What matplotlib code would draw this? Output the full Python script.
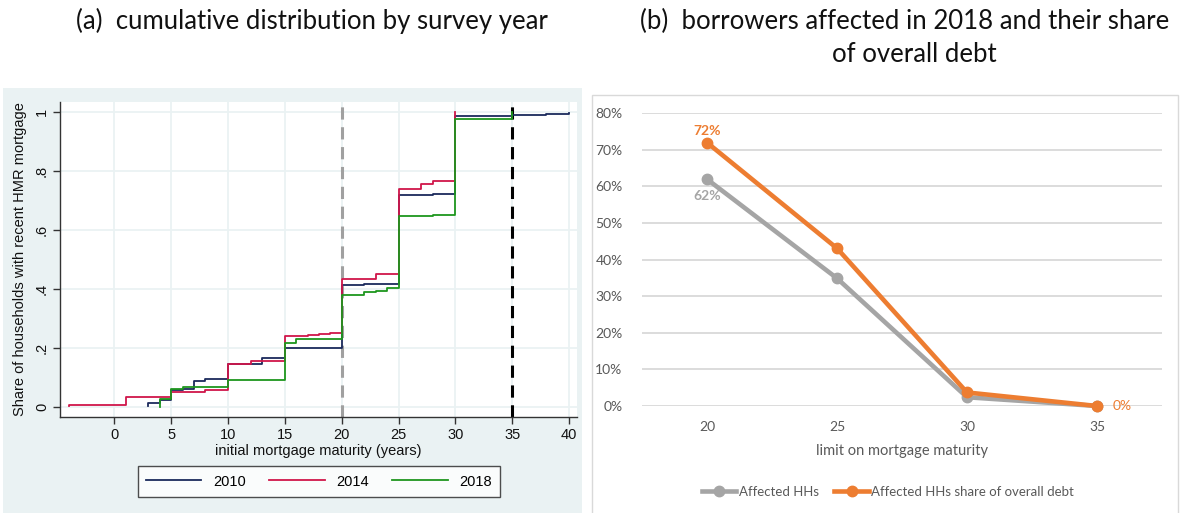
import numpy as np
import matplotlib.pyplot as plt
from matplotlib.patches import Rectangle
from matplotlib.ticker import PercentFormatter

# (a) cumulative share of households by initial maturity (stairstep points)
x2010 = [3, 3, 4, 5, 6, 7, 8, 10, 12, 13, 15, 20, 22, 25, 28, 30, 35, 38, 40, 40]
y2010 = [0.003, 0.016, 0.025, 0.059, 0.063, 0.089, 0.097, 0.145, 0.148, 0.168, 0.200,
         0.413, 0.416, 0.718, 0.720, 0.986, 0.990, 0.992, 0.994, 0.997]
x2014 = [-4, -4, 1, 5, 8, 10, 12, 15, 17, 18, 19, 20, 23, 25, 27, 28, 30]
y2014 = [0.003, 0.007, 0.035, 0.053, 0.060, 0.145, 0.158, 0.241, 0.244, 0.248, 0.252,
         0.433, 0.450, 0.737, 0.755, 0.766, 0.998]
x2018 = [4, 4, 5, 6, 10, 15, 16, 20, 22, 23, 24, 25, 28, 30, 35]
y2018 = [0.0, 0.027, 0.062, 0.068, 0.092, 0.219, 0.231, 0.381, 0.389, 0.395, 0.404,
         0.648, 0.652, 0.977, 1.0]

# (b) borrowers affected by a maturity cap in 2018
limits = ['20', '25', '30', '35']
affected_hhs = [0.62, 0.349, 0.024, 0.0]
affected_debt = [0.72, 0.431, 0.037, 0.0]

W, H = 1180, 513
fig = plt.figure(figsize=(W / 100, H / 100), dpi=100)
fig.patch.set_facecolor('white')

# panel backgrounds
fig.add_artist(Rectangle((3 / W, 0), 579 / W, 425 / H, transform=fig.transFigure,
                         facecolor='#EAF2F3', edgecolor='none', zorder=0))
fig.add_artist(Rectangle((592 / W, -0.01), 586 / W, 418 / H + 0.01, transform=fig.transFigure,
                         facecolor='white', edgecolor='#D9D9D9', lw=1, zorder=0))

# titles
title_kw = dict(ha='center', va='center', fontsize=18.5, family='Lato', color='#111111')
fig.text(312 / W, 1 - 21 / H, '(a)  cumulative distribution by survey year', **title_kw)
fig.text(905 / W, 1 - 21 / H, '(b)  borrowers affected in 2018 and their share', **title_kw)
fig.text(914 / W, 1 - 54 / H, 'of overall debt', **title_kw)

# ---- panel (a)
sans = ['Liberation Sans', 'DejaVu Sans']
ax = fig.add_axes([60 / W, (H - 417) / H, 517 / W, 315 / H])
ax.set_facecolor('white')
ax.step(x2010, y2010, where='post', color='#1B2A5C', lw=1.3, label='2010', zorder=3)
ax.step(x2014, y2014, where='post', color='#D0164A', lw=1.3, label='2014', zorder=3)
ax.step(x2018, y2018, where='post', color='#1E961E', lw=1.3, label='2018', zorder=3)
ax.axvline(20, color='#A0A0A0', lw=2.2, dashes=(4, 2.5), zorder=2)
ax.axvline(35, color='black', lw=2.2, dashes=(4, 2.5), zorder=2)

ax.set_xlim(-4.78, 40.7)
ax.set_ylim(-0.033, 1.033)
ax.set_xticks(range(0, 41, 5))
ax.set_yticks([0, 0.2, 0.4, 0.6, 0.8, 1.0])
ax.set_yticklabels(['0', '.2', '.4', '.6', '.8', '1'], rotation=90, va='center')
ax.grid(True, color='#EAF2F3', lw=1.3, zorder=0)
ax.set_axisbelow(True)
for side in ['top', 'right']:
    ax.spines[side].set_visible(False)
for side in ['left', 'bottom']:
    ax.spines[side].set_color('#333333')
    ax.spines[side].set_linewidth(1.0)
ax.tick_params(direction='out', length=5, width=1, color='#333333', labelsize=10.5,
               labelcolor='#111111', pad=3)
for lbl in ax.get_xticklabels() + ax.get_yticklabels():
    lbl.set_family(sans)
ax.set_xlabel('initial mortgage maturity (years)', fontsize=10.5, family=sans,
              color='#111111', labelpad=1)
ax.set_ylabel('Share of households with recent HMR mortgage', fontsize=10.5,
              family=sans, color='#111111', labelpad=6)

leg = ax.legend(loc='center', bbox_to_anchor=(319 / W, (H - 481.5) / H),
                bbox_transform=fig.transFigure, ncol=3, frameon=True, fancybox=False,
                handlelength=3.8, columnspacing=1.6, handletextpad=0.8,
                borderpad=0.55, prop={'family': sans, 'size': 10.5})
leg.get_frame().set_edgecolor('#222222')
leg.get_frame().set_linewidth(1.0)

# ---- panel (b)
calib = ['Lato', 'DejaVu Sans']
grey_txt = '#595959'
bx = fig.add_axes([642 / W, (H - 406) / H, 520 / W, 292.7 / H])
bx.set_facecolor('none')
pos = np.arange(len(limits))
bx.plot(pos, affected_hhs, color='#A5A5A5', lw=3.3, marker='o', ms=7.5,
        label='Affected HHs', clip_on=False, zorder=3)
bx.plot(pos, affected_debt, color='#ED7D31', lw=3.3, marker='o', ms=7.5,
        label='Affected HHs share of overall debt', clip_on=False, zorder=4)

bx.set_xlim(-0.5, len(limits) - 0.5)
bx.set_ylim(0, 0.8)
bx.set_yticks(np.arange(0, 0.81, 0.1))
bx.yaxis.set_major_formatter(PercentFormatter(1.0, decimals=0))
bx.set_xticks(pos)
bx.set_xticklabels(limits)
bx.grid(True, axis='y', color='#D9D9D9', lw=1.3, zorder=0)
bx.set_axisbelow(True)
for side in bx.spines:
    bx.spines[side].set_visible(False)
bx.tick_params(length=0, labelsize=10, labelcolor=grey_txt)
bx.tick_params(axis='y', pad=14)
bx.tick_params(axis='x', pad=11)
for lbl in bx.get_xticklabels() + bx.get_yticklabels():
    lbl.set_family(calib)
bx.set_xlabel('limit on mortgage maturity', fontsize=10.5, family=calib,
              color=grey_txt, labelpad=8)

bx.annotate(f'{affected_debt[0]:.0%}', (pos[0], affected_debt[0]), xytext=(0, 4),
            textcoords='offset points', ha='center', va='bottom', color='#ED7D31',
            fontsize=10, fontweight='bold', family=calib)
bx.annotate(f'{affected_hhs[0]:.0%}', (pos[0], affected_hhs[0]), xytext=(0, -8),
            textcoords='offset points', ha='center', va='top', color='#A5A5A5',
            fontsize=10, fontweight='bold', family=calib)
bx.annotate(f'{affected_debt[3]:.0%}', (pos[3], affected_debt[3]), xytext=(11, 0),
            textcoords='offset points', ha='left', va='center', color='#ED7D31',
            fontsize=10, family=calib)

bx.legend(loc='center', bbox_to_anchor=(888 / W, (H - 492) / H),
          bbox_transform=fig.transFigure, ncol=2, frameon=False, handlelength=2.6,
          handletextpad=0.2, columnspacing=1.2, labelcolor=grey_txt,
          prop={'family': calib, 'size': 9.5})

fig.savefig('out.png', dpi=100)
